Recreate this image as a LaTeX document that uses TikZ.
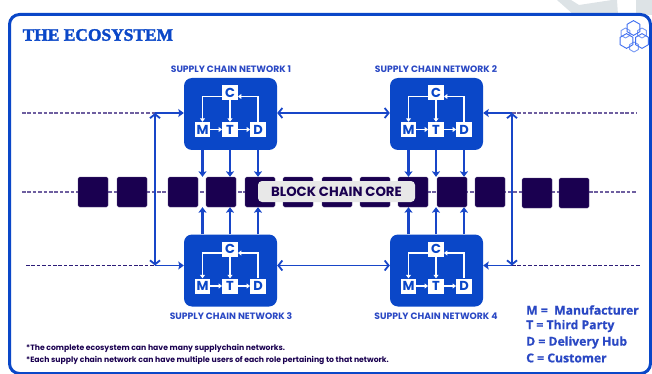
\documentclass[tikz,border=0pt]{standalone}
\usepackage{fontspec}
\setmainfont{Poppins}
\newfontfamily\ttlfont[BoldFeatures={FakeBold=2}]{Liberation Serif}
\newfontfamily\lgdfont[BoldFeatures={FakeBold=0.6}]{Open Sans}
\usetikzlibrary{arrows.meta,calc}
\definecolor{bluebox}{HTML}{0A47C8}
\definecolor{bluearr}{HTML}{1846C8}
\definecolor{navyblk}{HTML}{1A0050}
\definecolor{dashlt}{HTML}{6E5FA0}
\definecolor{dashdk}{HTML}{2C1C78}
\definecolor{grayst}{HTML}{DDE3E6}
\definecolor{ttlblue}{HTML}{2A48C4}
\definecolor{hexblue}{HTML}{3F6FF0}
\tikzset{
  netbox/.style={fill=bluebox,rounded corners=8pt,minimum width=93pt,minimum height=72pt,inner sep=0pt,draw=none},
  rolebox/.style={fill=white,text=bluebox,minimum width=15.5pt,minimum height=15pt,inner sep=0pt,font=\bfseries\fontsize{13}{13}\selectfont},
  inarrow/.style={draw=white,line width=1.3pt,-{Triangle[length=3.4pt,width=4.8pt]}},
  downarrow/.style={draw=bluearr,line width=2.1pt,-{Stealth[length=5.5pt,width=8pt,inset=1pt]}},
  sidearrow/.style={draw=bluearr,line width=1.9pt,-{Stealth[length=5.5pt,width=8pt,inset=1pt]}},
  openarrow/.style={draw=bluearr,line width=1.8pt,{Straight Barb[length=4pt,width=10pt]}-{Straight Barb[length=4pt,width=10pt]}},
  blk/.style={fill=navyblk,draw=navyblk!70!white,line width=.3pt,rounded corners=1.5pt,minimum width=30pt,minimum height=30pt,inner sep=0pt},
  dashA/.style={draw=dashlt,line width=1.1pt,dash pattern=on 3.6pt off 1.8pt},
  dashB/.style={draw=dashdk,line width=1pt,dash pattern=on 3.6pt off 1.8pt},
  nettitle/.style={text=ttlblue,font=\bfseries\fontsize{9.2}{10}\selectfont,inner sep=0pt},
  noteline/.style={anchor=west,text=navyblk,inner sep=0pt,font=\fontsize{7.7}{9}\selectfont\bfseries},
  lgdline/.style={anchor=west,text=ttlblue,inner sep=0pt,font=\lgdfont\bfseries\fontsize{12.2}{14}\selectfont},
  hexa/.style={draw=hexblue,line width=.9pt,line join=round},
}
% one network: name, centre x, centre y
\newcommand{\netw}[3]{%
  \node[netbox] (#1) at (#2,#3) {};
  \node[rolebox] (#1C) at ($(#2,#3)+(-0.5,-21.5)$) {C};
  \node[rolebox] (#1M) at ($(#2,#3)+(-28,15.5)$) {M};
  \node[rolebox] (#1T) at ($(#2,#3)+(-0.5,15.5)$) {T};
  \node[rolebox] (#1D) at ($(#2,#3)+(27.5,15.5)$) {D};
  \draw[inarrow] ([yshift=-4pt]#1C.west) -| (#1M.north);
  \draw[inarrow] (#1C) -- (#1T);
  \draw[inarrow] (#1M) -- (#1T);
  \draw[inarrow] (#1T) -- (#1D);
  \draw[inarrow] (#1D.north) |- ([yshift=-4pt]#1C.east);
}
\newcommand{\hexag}[4]{%
  \draw[hexa,#3] ($(#1,#2)+(90:#4)$) -- ($(#1,#2)+(150:#4)$) -- ($(#1,#2)+(210:#4)$) -- ($(#1,#2)+(270:#4)$) -- ($(#1,#2)+(330:#4)$) -- ($(#1,#2)+(30:#4)$) -- cycle;
}
\begin{document}
\begin{tikzpicture}[x=1pt,y=-1pt]
\useasboundingbox (0,0) rectangle (652,374);
% grey streaks behind the frame
\fill[grayst] (557,0) -- (571,0) -- (579,5) -- (612,0) -- (617,0) -- (618,15) -- (574,15) -- cycle;
\fill[grayst] (636,0) -- (652,0) -- (652,15) -- (636,15) -- cycle;
% frame
\draw[bluebox,line width=3pt,fill=white,rounded corners=10pt] (9.5,14.5) rectangle (650.5,373.5);
\node[anchor=west,text=bluebox,inner sep=0pt,font=\ttlfont\bfseries\fontsize{17.4}{20}\selectfont] (maintitle) at (22.5,35) {THE ECOSYSTEM};
% logo
\hexag{625.5}{33}{draw=hexblue!70}{5}
\hexag{642}{33}{draw=hexblue!70}{5}
\hexag{634}{47}{draw=hexblue!70}{5}
\hexag{633.5}{28}{}{7.4}
\hexag{626.5}{41}{}{7.4}
\hexag{642}{41}{}{7.4}
% coordinates of the free ends
\coordinate (upL) at (22,113);
\coordinate (upLj) at (155,113);
\coordinate (upR) at (637,113);
\coordinate (upRj) at (512,113);
\coordinate (loL) at (26,265.5);
\coordinate (loLj) at (155,265.5);
\coordinate (loR) at (641,265.5);
\coordinate (loRj) at (512,265.5);
\coordinate (midL) at (22,192);
\coordinate (midR) at (637,192);
% dashed lines
\draw[dashA] (midL) -- (midR);
\draw[dashA] (upL) -- (upLj);
\draw[dashA] (upRj) -- (upR);
\draw[dashB] (loL) -- (loLj);
\draw[dashB] (loRj) -- (loR);
% blocks
\foreach \n/\x in {1/93,2/132,3/183,4/221,5/260,6/298,7/337,8/375,9/413,10/452,11/490}{
  \node[blk] (b\n) at (\x,192) {};
}
\node[blk] (b12) at (537,193) {};
\node[blk] (b13) at (574,193) {};
% networks
\netw{na}{230.5}{114}
\netw{nb}{436.5}{114}
\netw{nc}{230.5}{270.5}
\netw{nd}{436.5}{270.5}
% arrows to the block row
\foreach \r in {M,T,D}{
  \draw[downarrow] (na\r |- na.south) -- (na\r |- b4.north);
  \draw[downarrow] (nb\r |- nb.south) -- (nb\r |- b4.north);
  \draw[downarrow] (nc\r |- nc.north) -- (nc\r |- b4.south);
  \draw[downarrow] (nd\r |- nd.north) -- (nd\r |- b4.south);
}
% core label
\node[fill=gray!18,rounded corners=4pt,minimum width=157pt,minimum height=21pt,inner sep=0pt,text=navyblk,font=\bfseries\fontsize{13.3}{14}\selectfont] (core) at (336.5,191.5) {BLOCK CHAIN CORE};
% links between networks
\draw[openarrow] (na.east |- upLj) -- (nb.west |- upLj);
\draw[openarrow] (nc.east |- loLj) -- (nd.west |- loLj);
\draw[openarrow] (upLj) -- (loLj);
\draw[openarrow] (upRj) -- (loRj);
\draw[sidearrow] (upLj) -- (na.west |- upLj);
\draw[sidearrow] (loLj) -- (nc.west |- loLj);
\draw[sidearrow] (upRj) -- (nb.east |- upRj);
\draw[sidearrow] (loRj) -- (nd.east |- loRj);
% titles
\node[nettitle] (ta) at (231,69.5) {SUPPLY CHAIN NETWORK 1};
\node[nettitle] (tb) at (436,69.5) {SUPPLY CHAIN NETWORK 2};
\node[nettitle] (tc) at (231,316.5) {SUPPLY CHAIN NETWORK 3};
\node[nettitle] (td) at (436,316.5) {SUPPLY CHAIN NETWORK 4};
% notes
\node[noteline] (n1) at (26,348.5) {*The complete ecosystem can have many supplychain networks.};
\node[noteline] (n2) at (26,360) {*Each supply chain network can have multiple users of each role pertaining to that network.};
% legend
\node[lgdline] (l1) at (526,310) {M =\ \ Manufacturer};
\node[lgdline] (l2) at (526,326) {T = Third Party};
\node[lgdline] (l3) at (526,342.5) {D = Delivery Hub};
\node[lgdline] (l4) at (526,358) {C = Customer};
\end{tikzpicture}
\end{document}
